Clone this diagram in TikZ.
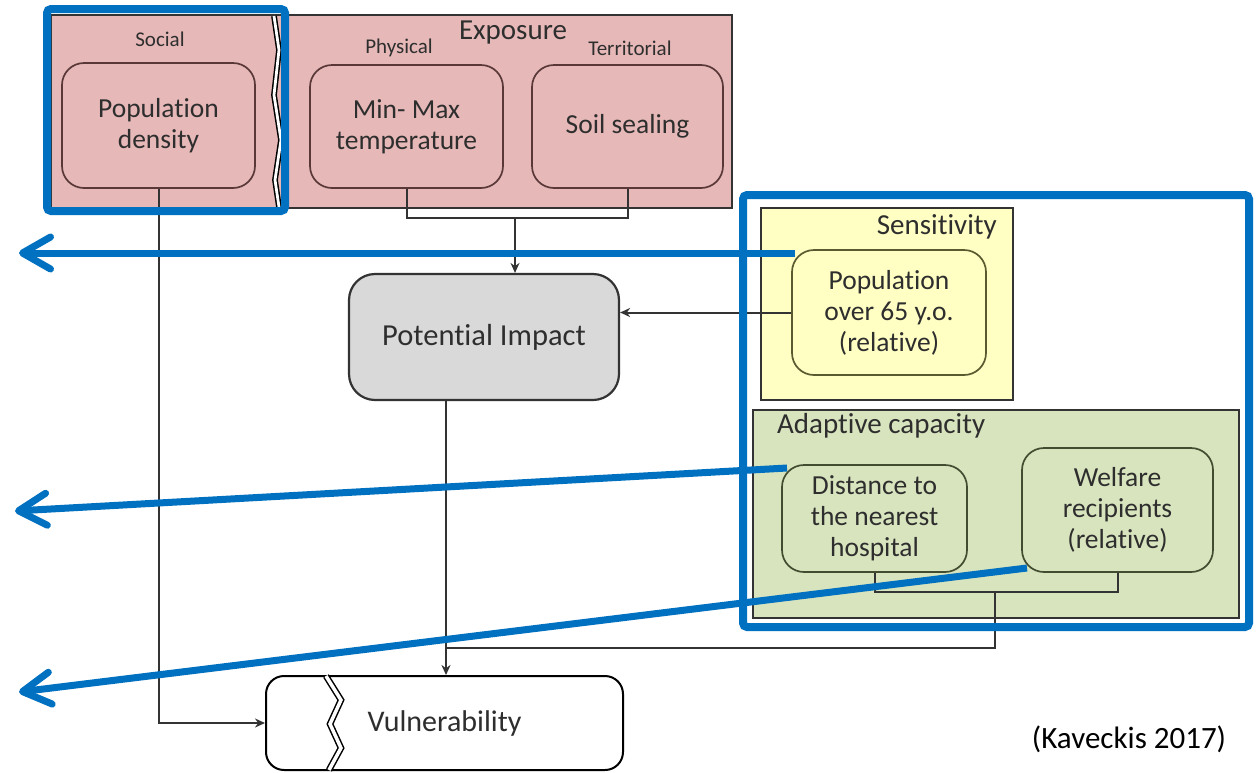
\documentclass[tikz,border=0pt]{standalone}
\usepackage{fontspec}
\setmainfont{Carlito}[Ligatures=NoCommon]
\usetikzlibrary{arrows.meta,calc}
\definecolor{pinkf}{HTML}{E6B9B8}
\definecolor{pinkd}{HTML}{5A3838}
\definecolor{yelf}{HTML}{FFFFC4}
\definecolor{yeld}{HTML}{5A5A30}
\definecolor{grnf}{HTML}{D8E4BE}
\definecolor{grnd}{HTML}{424C30}
\definecolor{grayf}{HTML}{D9D9D9}
\definecolor{txt}{HTML}{2E2E2E}
\definecolor{bluec}{HTML}{0070C0}
\definecolor{linec}{HTML}{333333}
\begin{document}
\begin{tikzpicture}[x=1pt,y=-1pt,
  box/.style={draw, inner sep=0pt, align=center, text=txt},
  boxtext/.style={font=\fontsize{27.5}{31}\selectfont},
  titletext/.style={font=\fontsize{29}{33}\selectfont, text=txt, inner sep=0pt},
  smalltext/.style={font=\fontsize{21}{24}\selectfont, text=txt, inner sep=0pt},
  frame/.style={box, line width=2.2pt, draw=linec},
  pinkbox/.style={box, boxtext, fill=pinkf, draw=pinkd, line width=1.7pt, rounded corners=22pt},
  yelbox/.style={box, boxtext, fill=yelf, draw=yeld, line width=1.7pt, rounded corners=22pt},
  grnbox/.style={box, boxtext, fill=grnf, draw=grnd, line width=1.7pt, rounded corners=22pt},
  conn/.style={draw=linec, line width=2pt},
  connarr/.style={conn, -{Stealth[length=10pt,width=9pt]}},
  bluebox/.style={draw=bluec, line width=8pt, rounded corners=4pt, inner sep=0pt},
  bluearr/.style={draw=bluec, line width=7pt, -{Straight Barb[length=28pt,width=32pt,round]}},
  zig/.style={draw=black, line width=1.5pt, double=white, double distance=2.8pt}
]
\useasboundingbox (0,0) rectangle (1256,772);

% Exposure frame
\node[frame, fill=pinkf, minimum width=681pt, minimum height=193pt] (expo) at (391.5,111.5) {};
\node[titletext] (expot) at (513,33) {Exposure};
\node[smalltext] (soct) at (160,39) {Social};
\node[smalltext] (phyt) at (399,48) {Physical};
\node[smalltext] (tert) at (630,48) {Territorial};
\node[pinkbox, minimum width=193pt, minimum height=125pt] (popd) at (158.5,125.5) {Population\\density};
\node[pinkbox, minimum width=193pt, minimum height=123pt] (minmax) at (406.5,126.5) {Min- Max\\temperature};
\node[pinkbox, minimum width=191pt, minimum height=123pt] (soil) at (627.5,126.5) {Soil sealing};
\draw[zig] (274,16) -- (279,50) -- (274,95) -- (281,140) -- (275,180) -- (279,207);

% Potential impact
\node[box, font=\fontsize{30.5}{34}\selectfont, fill=grayf, draw=linec, line width=2.2pt, rounded corners=26pt,
      minimum width=270pt, minimum height=126pt] (pi) at (484,337) {Potential Impact};

% Sensitivity
\node[frame, fill=yelf, line width=2.8pt, minimum width=252pt, minimum height=192pt] (sens) at (887,304) {};
\node[titletext, anchor=east] (senst) at (997,227) {Sensitivity};
\node[yelbox, minimum width=194pt, minimum height=125pt] (pop65) at (889,312.5) {Population\\over 65 y.o.\\(relative)};

% Adaptive capacity
\node[frame, fill=grnf, line width=2.8pt, minimum width=486pt, minimum height=208pt] (adapt) at (996,514) {};
\node[titletext, anchor=west] (adaptt) at (777,426) {Adaptive capacity};
\node[grnbox, minimum width=185pt, minimum height=107pt] (dist) at (874.5,518.5) {Distance to\\the nearest\\hospital};
\node[grnbox, minimum width=191pt, minimum height=124pt] (welf) at (1117.5,510) {Welfare\\recipients\\(relative)};

% Vulnerability
\node[box, draw=black, line width=2pt, fill=white, rounded corners=18pt,
      minimum width=357pt, minimum height=94pt, font=\fontsize{30}{34}\selectfont] (vul) at (444.5,723) {Vulnerability};
\draw[zig, double distance=3.5pt] (326,676) -- (341,700) -- (330,724) -- (341,748) -- (329,770);

% Connectors
\coordinate (expj) at (515,218);
\draw[conn] (minmax.south) |- (expj) -| (soil.south);
\draw[connarr] (expj) -- (expj |- pi.north);
\draw[connarr] (pop65.west) -- (pop65.west -| pi.east);
\coordinate (adj) at (995,592);
\draw[conn] (dist.south) |- (adj) -| (welf.south);
\coordinate (vj) at (446,648);
\draw[conn] (adj) |- (vj);
\draw[connarr] (vj |- pi.south) -- (vj |- vul.north);
\draw[connarr] (popd.south) |- (vul.west);

% Source
\node[font=\fontsize{31}{35}\selectfont, text=black, inner sep=0pt] (src) at (1129,739) {(Kaveckis 2017)};

% Blue highlights
\node[bluebox, minimum width=238pt, minimum height=202pt] (blue1) at (166,110) {};
\node[bluebox, minimum width=506pt, minimum height=432pt] (blue2) at (996,411) {};
\coordinate (b1s) at (795,253);
\coordinate (b1e) at (19,253);
\coordinate (b2s) at (787,468);
\coordinate (b2e) at (15,511);
\coordinate (b3s) at (1027,568);
\coordinate (b3e) at (19,692);
\draw[bluearr] (b1s) -- (b1e);
\draw[bluearr] (b2s) -- (b2e);
\draw[bluearr] (b3s) -- (b3e);
\end{tikzpicture}
\end{document}
